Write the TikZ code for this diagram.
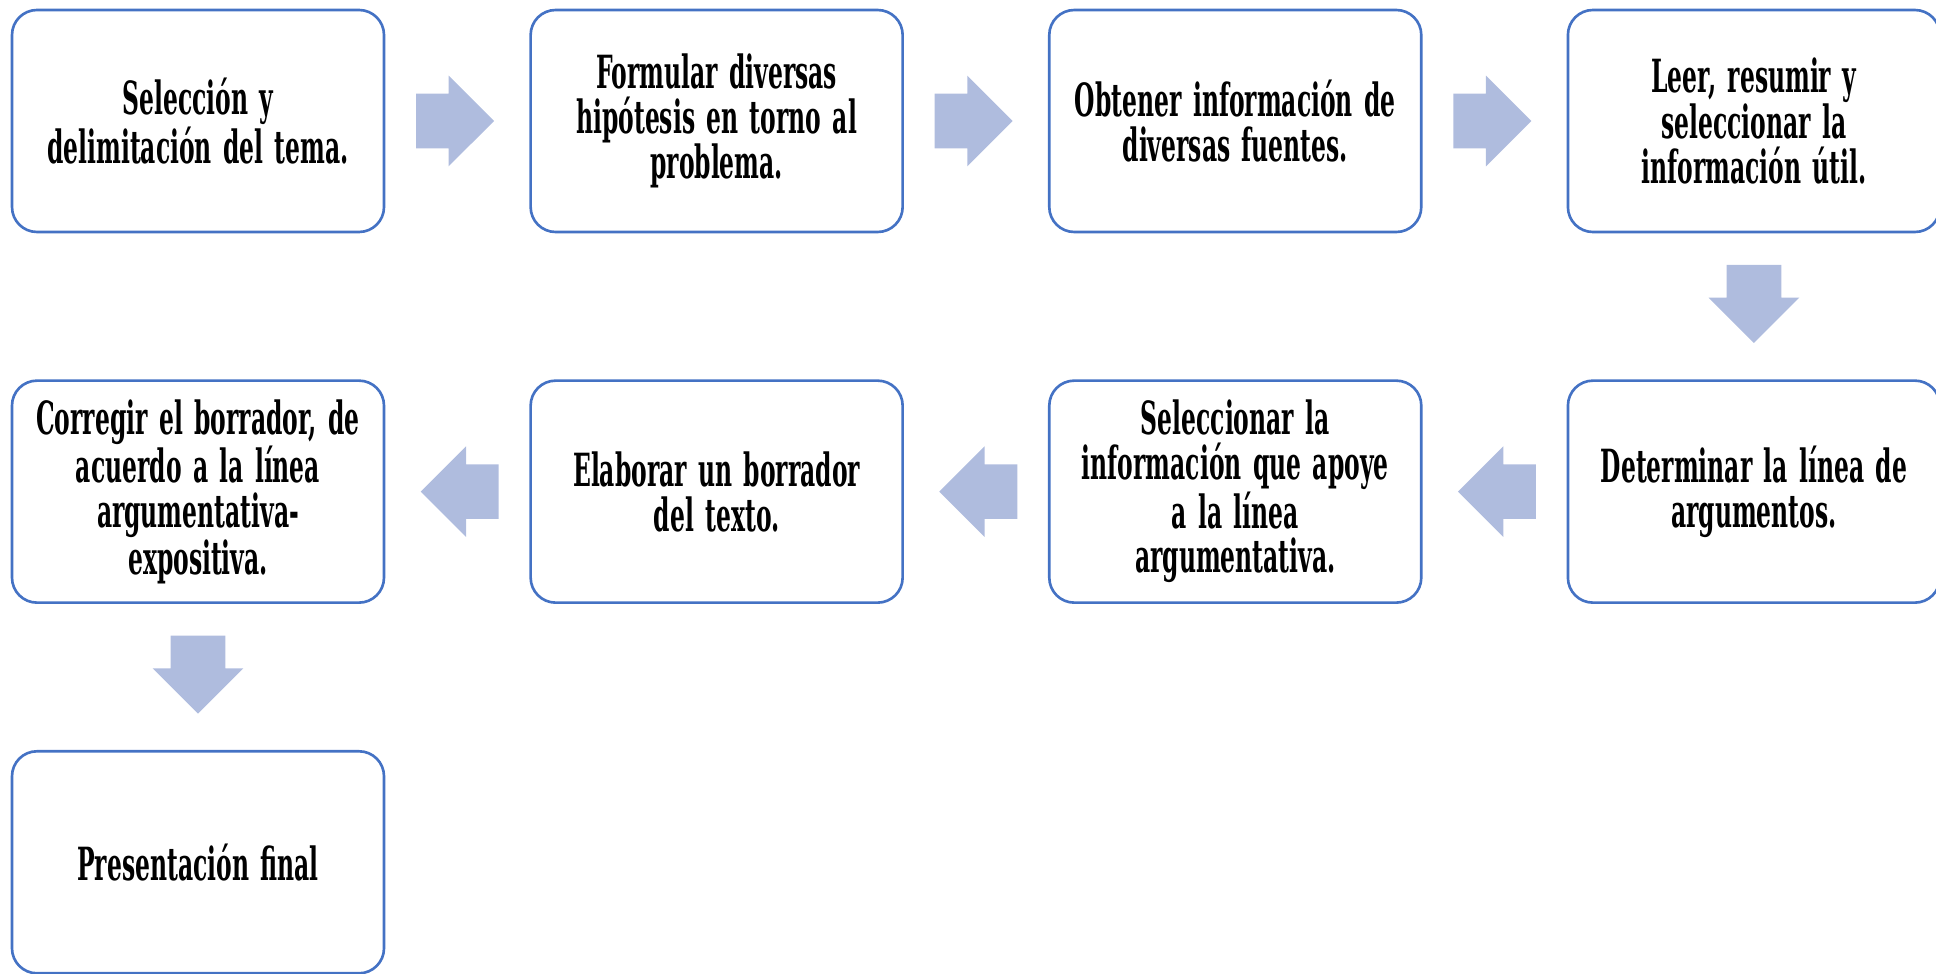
\documentclass[tikz,border=0pt]{standalone}
\usepackage{fontspec}
\setmainfont{DejaVu Serif Condensed}[FakeStretch=0.57, WordSpace=1.4]
\usetikzlibrary{positioning, shapes.arrows}
\definecolor{cajaazul}{RGB}{68,114,196}
\definecolor{flechaazul}{RGB}{175,188,222}
\tikzset{
	paso/.style={shape=rectangle, draw=cajaazul, line width=1.5pt, rounded corners=0.5cm, minimum width=7.44cm, minimum height=4.44cm, inner sep=0pt, align=center, font=\fontsize{26}{25.5}\selectfont\bfseries},
	flecha/.style={single arrow, draw=none, fill=flechaazul, minimum height=1.56cm, minimum width=1.8cm, single arrow head extend=0.36cm, inner xsep=0pt, inner ysep=0.54cm, xshift=-0.32cm},
}
\begin{document}
\begin{tikzpicture}
	\useasboundingbox (0, 0) rectangle (38.72, -19.46);
	% Boxes:
	\node[paso] (tema) at (3.96, -2.42) {Selección y\\delimitación del tema.};
	\node[paso, right=2.88cm of tema] (hipotesis) {Formular diversas\\hipótesis en torno al\\problema.};
	\node[paso, right=2.88cm of hipotesis] (fuentes) {Obtener información de\\diversas fuentes.};
	\node[paso, right=2.88cm of fuentes] (leer) {Leer, resumir y\\seleccionar la\\información útil.};
	\node[paso, below=2.92cm of leer] (lineaarg) {Determinar la línea de\\argumentos.};
	\node[paso, left=2.88cm of lineaarg] (apoyo) {Seleccionar la\\información que apoye\\a la línea\\argumentativa.};
	\node[paso, left=2.88cm of apoyo] (borrador) {Elaborar un borrador\\del texto.};
	\node[paso, left=2.88cm of borrador] (corregir) {Corregir el borrador, de\\acuerdo a la línea\\argumentativa-\\expositiva.};
	\node[paso, below=2.92cm of corregir] (final) {Presentación final};
	% Block arrows:
	\path (tema) -- (hipotesis) node[midway, flecha] {};
	\path (hipotesis) -- (fuentes) node[midway, flecha] {};
	\path (fuentes) -- (leer) node[midway, flecha] {};
	\path (leer) -- (lineaarg) node[midway, rotate=-90, flecha] {};
	\path (lineaarg) -- (apoyo) node[midway, rotate=180, flecha] {};
	\path (apoyo) -- (borrador) node[midway, rotate=180, flecha] {};
	\path (borrador) -- (corregir) node[midway, rotate=180, flecha] {};
	\path (corregir) -- (final) node[midway, rotate=-90, flecha] {};
\end{tikzpicture}
\end{document}
